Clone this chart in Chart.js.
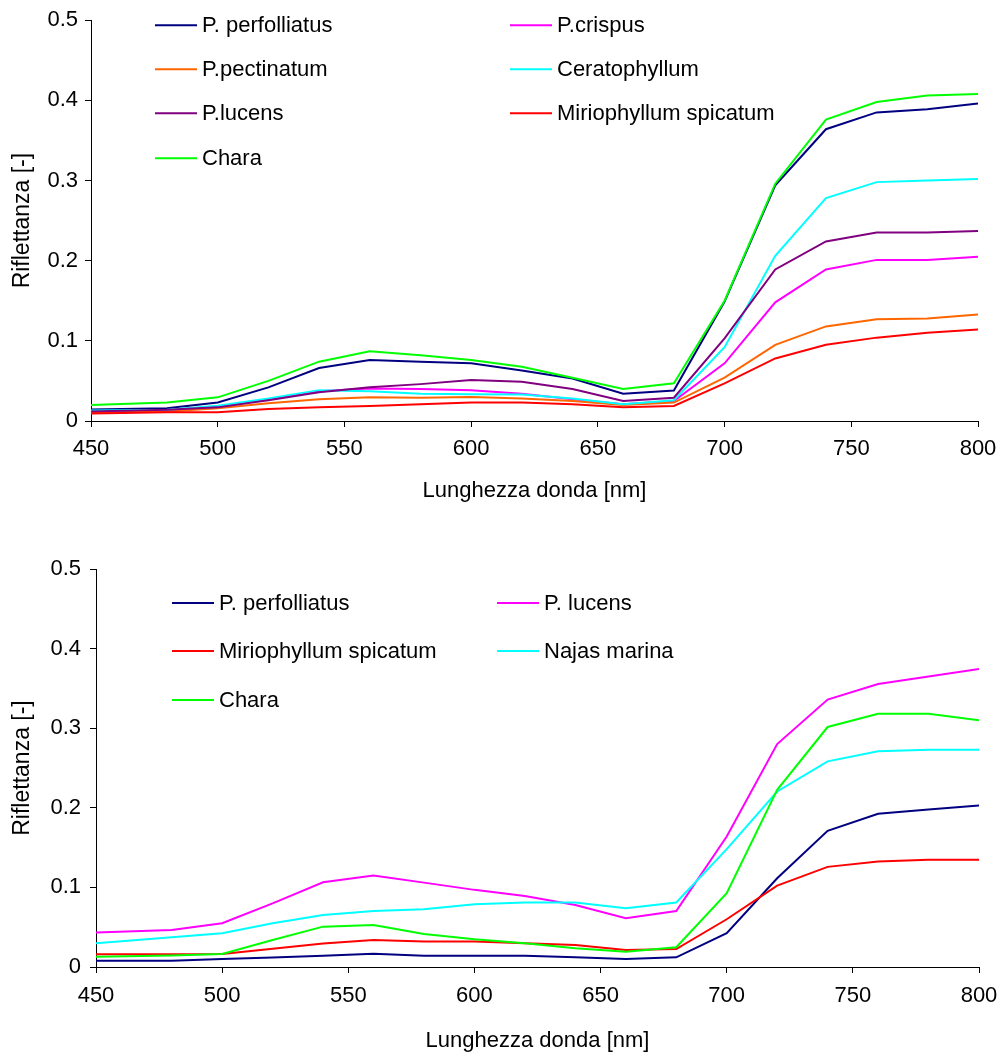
<!DOCTYPE html>
<html>
<head>
<meta charset="utf-8">
<script src="https://cdn.jsdelivr.net/npm/chart.js@4.4.0/dist/chart.umd.min.js"></script>
<style>
  body { margin: 0; background: #fff; width: 1001px; height: 1057px; overflow: hidden; }
  .box { position: absolute; left: 0; width: 1001px; }
</style>
</head>
<body>
<div class="box" style="top:0;height:520px"><canvas id="chartTop"></canvas></div>
<div class="box" style="top:540px;height:517px"><canvas id="chartBottom"></canvas></div>
<script>
// wavelengths (nm)
const wavelengths = [450, 480, 500, 520, 540, 560, 580, 600, 620, 640, 660, 680, 700, 720, 740, 760, 780, 800]

// top panel
const perfolliatusA  = [0.0145, 0.016, 0.023, 0.042, 0.066, 0.076, 0.074, 0.072, 0.063, 0.053, 0.034, 0.038, 0.149, 0.294, 0.364, 0.385, 0.389, 0.396]
const crispusA       = [0.012, 0.013, 0.018, 0.027, 0.037, 0.0405, 0.040, 0.0385, 0.034, 0.027, 0.021, 0.025, 0.072, 0.148, 0.189, 0.201, 0.201, 0.205]
const pectinatumA    = [0.011, 0.012, 0.016, 0.022, 0.027, 0.0295, 0.029, 0.030, 0.028, 0.025, 0.020, 0.023, 0.054, 0.095, 0.118, 0.127, 0.128, 0.133]
const ceratophyllumA = [0.013, 0.014, 0.019, 0.028, 0.0385, 0.037, 0.034, 0.0335, 0.033, 0.028, 0.021, 0.026, 0.092, 0.206, 0.278, 0.298, 0.300, 0.302]
const lucensA        = [0.012, 0.014, 0.017, 0.026, 0.036, 0.042, 0.046, 0.051, 0.049, 0.040, 0.025, 0.029, 0.103, 0.189, 0.224, 0.235, 0.235, 0.237]
const miriophyllumA  = [0.0095, 0.011, 0.011, 0.015, 0.017, 0.0187, 0.021, 0.023, 0.023, 0.021, 0.017, 0.0187, 0.047, 0.078, 0.095, 0.104, 0.110, 0.114]
const charaA         = [0.020, 0.023, 0.0295, 0.050, 0.074, 0.087, 0.082, 0.076, 0.0676, 0.054, 0.040, 0.047, 0.150, 0.296, 0.376, 0.398, 0.406, 0.408]

// bottom panel
const perfolliatusB = [0.008, 0.008, 0.010, 0.012, 0.0142, 0.0168, 0.0142, 0.0142, 0.0142, 0.0122, 0.010, 0.0122, 0.0424, 0.1115, 0.171, 0.1925, 0.198, 0.203]
const lucensB       = [0.0432, 0.0465, 0.055, 0.080, 0.1065, 0.1149, 0.106, 0.0969, 0.0893, 0.078, 0.0612, 0.0704, 0.164, 0.280, 0.336, 0.3556, 0.365, 0.3745]
const miriophyllumB = [0.016, 0.016, 0.0163, 0.023, 0.0294, 0.034, 0.0319, 0.0319, 0.0298, 0.0277, 0.0214, 0.0226, 0.060, 0.1023, 0.1258, 0.1325, 0.1346, 0.1346]
const najasB        = [0.0298, 0.0373, 0.0423, 0.055, 0.0654, 0.0704, 0.0725, 0.0788, 0.081, 0.081, 0.0738, 0.081, 0.148, 0.2205, 0.2583, 0.2709, 0.273, 0.273]
const charaB        = [0.013, 0.0145, 0.0163, 0.034, 0.0507, 0.0528, 0.0415, 0.0348, 0.0298, 0.0235, 0.0193, 0.0248, 0.0927, 0.2226, 0.3015, 0.318, 0.318, 0.310]

const xTicks = [450, 500, 550, 600, 650, 700, 750, 800]
const yTicks = [0, 0.1, 0.2, 0.3, 0.4, 0.5]
const xTitle = 'Lunghezza donda [nm]'
const yTitle = 'Riflettanza [-]'

const FONT = "'Liberation Sans', Arial, sans-serif"

// legend laid out in two columns, like the original spreadsheet chart
const gridLegend = {
  id: 'gridLegend',
  afterDraw(chart, args, opts) {
    const ctx = chart.ctx, area = chart.chartArea
    ctx.save()
    ctx.font = opts.fontSize + 'px ' + FONT
    ctx.textBaseline = 'middle'
    ctx.textAlign = 'left'
    chart.data.datasets.forEach((ds, i) => {
      const x = area.left + opts.cols[i % 2]
      const y = area.top + opts.rows[Math.floor(i / 2)]
      ctx.strokeStyle = ds.borderColor
      ctx.lineWidth = 2
      ctx.beginPath(); ctx.moveTo(x, y); ctx.lineTo(x + opts.lineLen, y); ctx.stroke()
      ctx.fillStyle = '#000'
      ctx.fillText(ds.label, x + opts.lineLen + 5, y + 1)
    })
    ctx.restore()
  }
}

function series(label, data, color) {
  return { label, data: wavelengths.map((w, i) => ({ x: w, y: data[i] })), borderColor: color, backgroundColor: color, borderWidth: 2, pointRadius: 0, tension: 0, fill: false }
}

function makeChart(id, datasets, cfg) {
  // last series drawn on top, as in the original
  datasets.forEach((d, i) => { d.order = datasets.length - i })
  // eslint-disable-next-line no-undef
  return new Chart(document.getElementById(id), {
    type: 'line',
    data: { datasets },
    options: {
      responsive: true,
      maintainAspectRatio: false,
      animation: false,
      layout: { padding: cfg.padding },
      plugins: {
        legend: { display: false },
        tooltip: { enabled: false },
        gridLegend: cfg.legend
      },
      scales: {
        x: {
          type: 'linear', min: 450, max: 800,
          afterFit: (s) => { s.height = cfg.xHeight; s.paddingRight = 0; s.paddingLeft = 0 },
          afterBuildTicks: (s) => { s.ticks = xTicks.map((v) => ({ value: v })) },
          grid: { display: true, drawOnChartArea: false, drawTicks: true, tickLength: 6, color: '#000' },
          border: { display: true, color: '#000', width: 1 },
          ticks: { color: '#000', padding: cfg.xPad, maxRotation: 0, font: { family: FONT, size: 22 } },
          title: { display: true, text: xTitle, color: '#000', padding: 0, font: { family: FONT, size: 22 } }
        },
        y: {
          min: 0, max: 0.5,
          afterFit: (s) => { s.width = cfg.yWidth },
          afterBuildTicks: (s) => { s.ticks = yTicks.map((v) => ({ value: v })) },
          grid: { display: true, drawOnChartArea: false, drawTicks: true, tickLength: 6, color: '#000' },
          border: { display: true, color: '#000', width: 1 },
          ticks: { color: '#000', padding: cfg.yPad, font: { family: FONT, size: 22 }, callback: (v) => v === 0 ? '0' : Number(v).toFixed(1) },
          title: { display: true, text: yTitle, color: '#000', padding: 0, font: { family: FONT, size: 23 } }
        }
      }
    },
    plugins: [gridLegend]
  })
}

makeChart('chartTop', [
  series('P. perfolliatus', perfolliatusA, '#000080'),
  series('P.crispus', crispusA, '#FF00FF'),
  series('P.pectinatum', pectinatumA, '#FF6600'),
  series('Ceratophyllum', ceratophyllumA, '#00FFFF'),
  series('P.lucens', lucensA, '#800080'),
  series('Miriophyllum spicatum', miriophyllumA, '#FF0000'),
  series('Chara', charaA, '#00FF00')
], {
  padding: { top: 19, right: 23, bottom: 16, left: 9 },
  xHeight: 83, yWidth: 82, yPad: 7, xPad: 9,
  legend: { cols: [64, 419], rows: [5, 49, 93, 138], lineLen: 42, fontSize: 22 }
})

makeChart('chartBottom', [
  series('P. perfolliatus', perfolliatusB, '#000080'),
  series('P. lucens', lucensB, '#FF00FF'),
  series('Miriophyllum spicatum', miriophyllumB, '#FF0000'),
  series('Najas marina', najasB, '#00FFFF'),
  series('Chara', charaB, '#00FF00')
], {
  padding: { top: 29, right: 22, bottom: 3, left: 9 },
  xHeight: 87, yWidth: 87, yPad: 9, xPad: 10,
  legend: { cols: [76, 401], rows: [34, 82, 131], lineLen: 42, fontSize: 22 }
})
</script>
</body>
</html>
